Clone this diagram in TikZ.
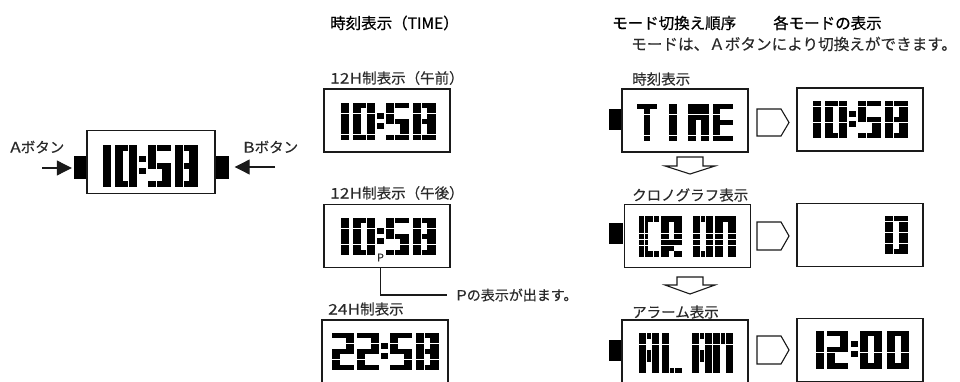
\documentclass[tikz,border=0pt]{standalone}
\usepackage{fontspec}
\usetikzlibrary{arrows.meta}
\setmainfont{Noto Sans CJK JP}
\newfontfamily\widefont[FakeStretch=1.2,FakeBold=0.2]{Noto Sans CJK JP}
\newfontfamily\labelfont[FakeBold=0.2]{Noto Sans CJK JP}
\newfontfamily\headfont[FakeBold=0.7]{Noto Sans CJK JP}
\definecolor{ink}{HTML}{1A1A1A}
\definecolor{soft}{HTML}{2A2A2A}
\tikzset{
  lcdbox/.style={draw=ink,line width=1.5pt,fill=white,inner sep=0pt,minimum width=126pt,minimum height=63pt},
  pushbtn/.style={fill=black,inner sep=0pt,minimum width=14pt,minimum height=21pt},
  labeltxt/.style={anchor=west,inner sep=0pt,text=soft,font=\labelfont\fontsize{14.5}{15}\selectfont},
  headtxt/.style={anchor=west,inner sep=0pt,text=black,font=\headfont\fontsize{15.5}{16}\selectfont},
  hollow/.style={draw=ink,line width=1.1pt,fill=white,line join=miter},
  pusharrow/.style={draw=ink,line width=1.1pt,-{Triangle[length=15pt,width=15pt]}}
}
\makeatletter
\newcount\lcdc
\def\lcdrow#1{\lcdc=0 \def\lcdpos{0}\@tfor\lcdch:=#1\do{%
  \ifnum\lcdc=1 \def\lcdcw{0.74}\else\def\lcdcw{1.13}\fi
  \if\lcdch1\fill[black] ({\lcdx+\lcdpos*\lcdw},{\lcdy+\ri*\lcdh}) rectangle ++({\lcdcw*\lcdw-0.25},{\lcdh-0.3});\fi
  \pgfmathsetmacro\lcdpos{\lcdpos+\lcdcw}\global\let\lcdpos\lcdpos
  \advance\lcdc by 1 }}
\newcommand\lcd[5]{\def\lcdx{#1}\def\lcdy{#2}\def\lcdw{#3}\def\lcdh{#4}%
  \foreach \rw [count=\ri from 0] in {#5}{\expandafter\lcdrow\expandafter{\rw}}}
\makeatother
\def\Gone{1,1,1,1,1,1,1}
\def\Gtwo{111,001,001,111,100,100,111}
\def\Gfive{111,100,100,111,001,001,111}
\def\Geight{111,101,101,111,101,101,111}
\def\Gzero{111,101,101,101,101,101,111}
\newcommand\lcdg[5]{\edef\lcdtmp{\noexpand\lcd{#1}{#2}{#3}{#4}{#5}}\lcdtmp}
\newcommand\colondots[3]{\fill[black] (#1,#2+10*#3) rectangle ++(6.6,6); \fill[black] (#1,#2+20*#3) rectangle ++(6.6,6);}
\newcommand\timeten[3]{% x,y of the first digit, row height
  \lcdg{#1}{#2}{7.1}{#3}{\Gone}
  \lcdg{#1+11.5}{#2}{7.6}{#3}{\Gzero}
  \colondots{#1+36}{#2}{#3/5.3}
  \lcdg{#1+44.5}{#2}{8}{#3}{\Gfive}
  \lcdg{#1+71.5}{#2}{8}{#3}{\Geight}}
\begin{document}
\begin{tikzpicture}[x=1pt,y=-1pt]
\useasboundingbox (0,0) rectangle (960,382);
\clip (0,0) rectangle (960,382);
\fill[white] (0,0) rectangle (960,382);

% headings
\node[headtxt] (h1) at (330,23) {時刻表示（TIME）};
\node[headtxt] (h2) at (612,23) {モード切換え順序};
\node[headtxt] (h3) at (773,23) {各モードの表示};
\node[labeltxt,font=\labelfont\fontsize{15.6}{16}\selectfont] (h4) at (631,44) {モードは、Ａボタンにより切換えができます。};

% watch
\node[pushbtn,minimum height=23pt] (wa) at (81,167.5) {};
\node[pushbtn,minimum height=23pt] (wb) at (221.5,167.5) {};
\node[lcdbox,minimum width=128pt] (watch) at (151,162) {};
\coordinate (as) at (42,168);
\coordinate (bs) at (275,167);
\draw[pusharrow,shorten >=2pt] (as) -- (wa.west |- as);
\draw[pusharrow,shorten >=6pt] (bs) -- (wb.east |- bs);
\node[labeltxt] (la) at (10,147) {{\widefont A}ボタン};
\node[labeltxt] (lb) at (243,147) {{\widefont B}ボタン};
\timeten{103}{145}{6}

% time column
\node[labeltxt] (t1) at (330,78) {{\widefont 12H}制表示（午前）};
\node[lcdbox] (b1) at (387,120.5) {};
\timeten{341}{103}{5.3}
\node[labeltxt] (t2) at (330,193) {{\widefont 12H}制表示（午後）};
\node[lcdbox] (b2) at (387,236) {};
\timeten{341}{218}{5.3}
\node[inner sep=0pt,text=soft,font=\labelfont\fontsize{10.5}{11}\selectfont] (pm) at (380.5,257.5) {P};
\node[labeltxt,font=\labelfont\fontsize{14}{15}\selectfont] (call) at (456,295) {{\widefont P}の表示が出ます。};
\draw[ink,line width=1.2pt,shorten >=9pt] (pm.center |- b2.south) |- (call.west);
\node[labeltxt] (t3) at (328,309) {{\widefont 24H}制表示};
\node[lcdbox,minimum height=66pt] (b3) at (385,353) {};
\lcdg{332}{333}{7.4}{5.3}{\Gtwo}
\lcdg{357}{333}{7.4}{5.3}{\Gtwo}
\colondots{381}{333}{1}
\lcdg{390}{333}{7.5}{5.3}{\Gfive}
\lcdg{416}{333}{7.6}{5.3}{\Geight}

% mode column
\node[pushbtn] (mb1) at (616,119.5) {};
\node[lcdbox] (m1) at (685,120.5) {};
\node[labeltxt] (ml1) at (632,79) {時刻表示};
\lcdg{643.5}{104}{6.4}{5.3}{\Gone}
\lcdg{637}{104}{6.8}{5.3}{111}
\lcdg{669}{104}{7.1}{5.3}{\Gone}
\lcdg{688}{104}{7}{5.3}{111,111,111,101,101,101,101}
\lcdg{713}{104}{6.6}{5.3}{111,100,100,111,100,100,111}

\node[lcdbox] (r1) at (860,119.5) {};
\timeten{813}{101.5}{5.3}

\node[pushbtn] (mb2) at (616,233.5) {};
\node[lcdbox] (m2) at (687.5,236) {};
\node[labeltxt] (ml2) at (632,195) {クロノグラフ表示};
\lcdg{639}{216}{4.9}{5.9}{1111,1100,1100,1100,1100,1100,1111}
\lcdg{661}{216}{7}{5.9}{111,101,101,101,111,110,101}
\lcdg{693}{216}{6.8}{5.9}{\Gzero}
\lcdg{715}{216}{7}{5.9}{111,101,101,101,101,101,101}

\node[lcdbox] (r2) at (860,235) {};
\lcdg{885}{216}{7.6}{5.5}{\Gzero}

\node[pushbtn] (mb3) at (616,350) {};
\node[lcdbox,minimum height=68pt] (m3) at (685,354) {};
\node[labeltxt] (ml3) at (632,312) {アラーム表示};
\lcdg{639}{333}{6.8}{5.8}{111,101,101,111,111,101,101}
\lcdg{662}{333}{6.8}{5.8}{100,100,100,100,100,100,111}
\lcdg{692}{333}{6.8}{5.8}{111,101,101,111,111,101,101}
\lcdg{713}{333}{6.8}{5.8}{111,111,101,101,101,101,101}

\node[lcdbox] (r3) at (860,350) {};
\lcdg{816}{331}{7.1}{5.4}{\Gone}
\lcdg{827}{331}{7.2}{5.4}{\Gtwo}
\colondots{851}{331}{1}
\lcdg{860}{331}{7.4}{5.4}{\Gzero}
\lcdg{887}{331}{7.4}{5.4}{\Gzero}

% hollow arrows
\draw[hollow] (757,109) -- (781,109) -- (789,122.5) -- (781,136) -- (757,136) -- cycle;
\draw[hollow] (757,222) -- (781,222) -- (789,236) -- (781,250) -- (757,250) -- cycle;
\draw[hollow] (757,336) -- (781,336) -- (789,350) -- (781,364) -- (757,364) -- cycle;
\draw[hollow] (677,157) -- (703,157) -- (703,166) -- (715,166) -- (690,174) -- (665,166) -- (677,166) -- cycle;
\draw[hollow] (677,277) -- (703,277) -- (703,285) -- (715,285) -- (690,294) -- (665,285) -- (677,285) -- cycle;
\end{tikzpicture}
\end{document}
